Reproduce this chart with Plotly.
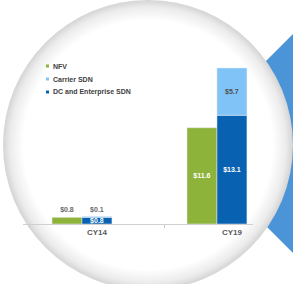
import base64
import plotly.graph_objects as go

# ---- data ----
categories = ["CY14", "CY19"]
nfv = [0.8, 11.6]
dc_enterprise_sdn = [0.8, 13.1]
carrier_sdn = [0.1, 5.7]
series_names = ["NFV", "Carrier SDN", "DC and Enterprise SDN"]

# ---- style ----
W, H = 293, 284
ML, MR, MT, MB = 23, 40, 40, 60
PW, PH = W - ML - MR, H - MT - MB
C_NFV = "#8db33a"
C_CAR = "#80c4f7"
C_DC = "#0962b1"
FONT = "Liberation Sans, Arial, sans-serif"
GREY = "#595959"


def px_x(p):
    return (p - ML) / PW


def px_y(p):
    return (H - MB - p) / PH


def labels(vals):
    return [f"${v:.1f}" for v in vals]


fig = go.Figure()
fig.add_trace(go.Bar(
    x=categories, y=nfv, name=series_names[0], marker_color=C_NFV,
    width=0.222, offset=-0.333,
    text=labels(nfv), textposition=["outside", "inside"], textangle=0,
    insidetextanchor="middle", constraintext="none",
    insidetextfont=dict(color="white", size=7, family=FONT, weight="bold"),
    outsidetextfont=dict(color="#6a6a6a", size=7, family=FONT, weight="bold"),
    cliponaxis=False, showlegend=False,
))
fig.add_trace(go.Bar(
    x=categories, y=dc_enterprise_sdn, name=series_names[2], marker_color=C_DC,
    width=0.222, offset=-0.111,
    text=labels(dc_enterprise_sdn), textposition="inside", textangle=0,
    insidetextanchor="middle", constraintext="none",
    insidetextfont=dict(color="white", size=7, family=FONT, weight="bold"),
    cliponaxis=False, showlegend=False,
))
fig.add_trace(go.Bar(
    x=categories, y=carrier_sdn, base=dc_enterprise_sdn, name=series_names[1],
    marker_color=C_CAR, width=0.222, offset=-0.111,
    text=labels(carrier_sdn), textposition=["outside", "inside"], textangle=0,
    insidetextanchor="middle", constraintext="none",
    insidetextfont=dict(color="#505050", size=7, family=FONT, weight="bold"),
    outsidetextfont=dict(color="#6a6a6a", size=7, family=FONT, weight="bold"),
    cliponaxis=False, showlegend=False,
))

# ---- background: blue pointer triangle and shaded circle ----
svg = f"""<svg xmlns='http://www.w3.org/2000/svg' width='{W}' height='{H}' viewBox='0 0 {W} {H}'>
<defs>
<radialGradient id='g' cx='148' cy='145' r='145' gradientUnits='userSpaceOnUse'>
<stop offset='0' stop-color='#ffffff'/>
<stop offset='0.86' stop-color='#ffffff'/>
<stop offset='0.95' stop-color='#ececec'/>
<stop offset='1' stop-color='#d4d4d4'/>
</radialGradient>
</defs>
<rect width='{W}' height='{H}' fill='#ffffff'/>
<polygon points='183.5,143.5 340,-13 340,300' fill='#4b94d8'/>
<circle cx='148' cy='145' r='145' fill='url(#g)'/>
</svg>"""
src = "data:image/svg+xml;base64," + base64.b64encode(svg.encode()).decode()
fig.add_layout_image(dict(
    source=src, xref="paper", yref="paper",
    x=px_x(0), y=px_y(0), sizex=W / PW, sizey=H / PH,
    xanchor="left", yanchor="top", sizing="stretch", layer="below",
))

# ---- legend (compact, drawn as shapes + text) ----
legend_colors = [C_NFV, C_CAR, C_DC]
row_y = [66, 79, 92]
for name, col, ry in zip(series_names, legend_colors, row_y):
    fig.add_shape(type="rect", xref="paper", yref="paper",
                  x0=px_x(46), x1=px_x(49), y0=px_y(ry + 1.5), y1=px_y(ry - 1.5),
                  fillcolor=col, line_width=0)
    fig.add_annotation(xref="paper", yref="paper", x=px_x(50.5), y=px_y(ry),
                       text=name, showarrow=False, xanchor="left", yanchor="middle",
                       font=dict(family=FONT, size=7, color="#404040", weight="bold"))

fig.update_layout(
    width=W, height=H,
    margin=dict(l=ML, r=MR, t=MT, b=MB),
    paper_bgcolor="white", plot_bgcolor="rgba(0,0,0,0)",
    barmode="overlay", showlegend=False,
    font=dict(family=FONT),
)
fig.update_xaxes(
    type="category", range=[-0.548, 1.156], tickson="boundaries",
    ticks="outside", ticklen=3, tickcolor="#c8c8c8",
    showline=True, linecolor="#d0d0d0", linewidth=1,
    showgrid=False, zeroline=False,
    tickfont=dict(family=FONT, size=8, color=GREY, weight="bold"),
)
fig.update_yaxes(
    range=[0, PH / 8.3], visible=False, showgrid=False, zeroline=False,
)

fig.write_html(
    "out.html",
    config={"displayModeBar": False},
    post_script="document.body.style.margin='0px';document.body.style.overflow='hidden';",
)
